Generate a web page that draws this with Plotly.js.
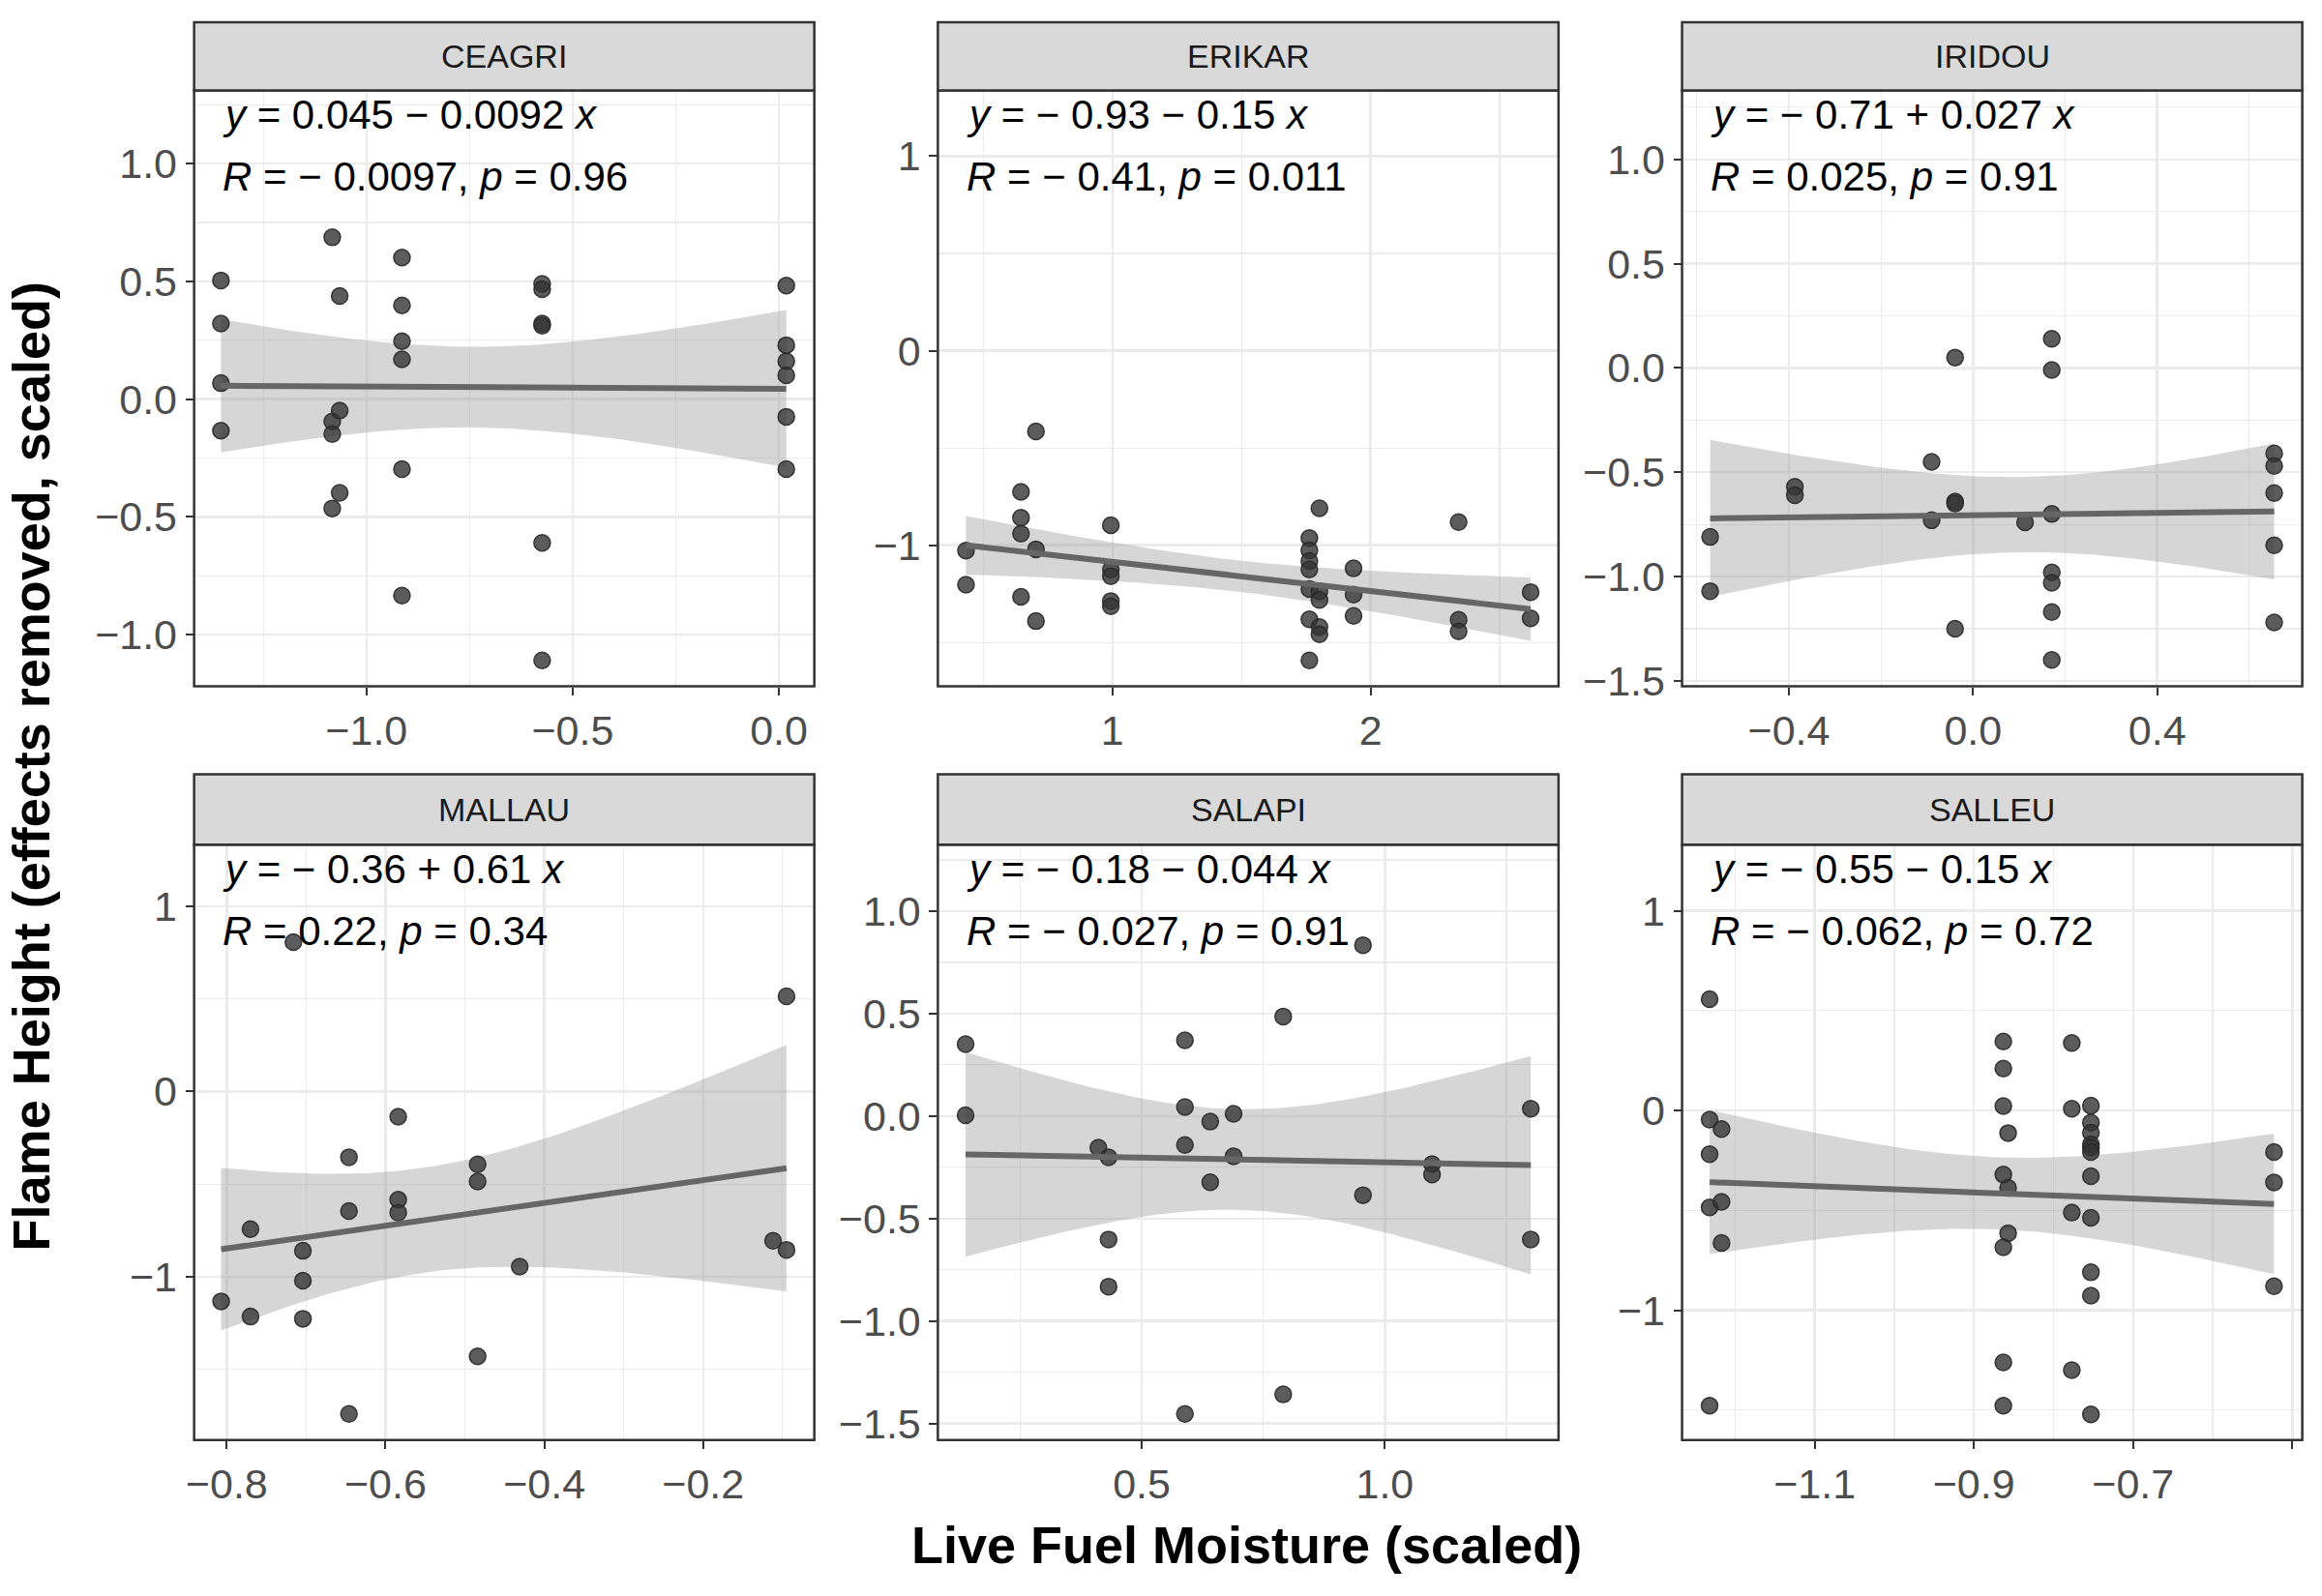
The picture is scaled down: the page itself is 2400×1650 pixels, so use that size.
<!DOCTYPE html>
<html>
<head>
<meta charset="utf-8">
<script src="https://cdn.plot.ly/plotly-3.0.1.min.js"></script>
<style>body{margin:0;background:#fff}#plot{width:2400px;height:1650px}</style>
</head>
<body>
<div id="plot"></div>
<script>
// site names (facet order)
var sites = ['CEAGRI', 'ERIKAR', 'IRIDOU', 'MALLAU', 'SALAPI', 'SALLEU'];

// live fuel moisture (scaled) per site
var ceagriX = [-1.353,-1.353,-1.353,-1.353,-1.083,-1.083,-1.083,-1.083,-1.065,-1.065,-1.065,
  -0.914,-0.914,-0.914,-0.914,-0.914,-0.914,-0.574,-0.574,-0.574,-0.574,-0.574,-0.574,
  0.018,0.018,0.018,0.018,0.018,0.018];
var ceagriY = [0.504,0.321,0.068,-0.134,0.687,-0.095,-0.148,-0.464,0.438,-0.049,-0.398,
  0.601,0.398,0.246,0.169,-0.297,-0.834,0.489,0.467,0.321,0.312,-0.610,-1.109,
  0.482,0.229,0.161,0.101,-0.075,-0.297];
var erikarX = [0.433,0.433,0.646,0.646,0.646,0.646,0.704,0.704,0.704,0.994,0.994,0.994,0.994,0.994,
  1.763,1.763,1.763,1.763,1.763,1.763,1.763,1.802,1.802,1.802,1.802,1.802,1.934,1.934,1.934,
  2.341,2.341,2.341,2.620,2.620];
var erikarY = [-1.028,-1.203,-0.726,-0.859,-0.941,-1.265,-0.415,-1.021,-1.390,-0.897,-1.125,-1.159,-1.287,-1.314,
  -0.963,-1.026,-1.081,-1.125,-1.225,-1.381,-1.592,-0.810,-1.236,-1.281,-1.421,-1.458,-1.119,-1.254,-1.363,
  -0.881,-1.383,-1.443,-1.241,-1.376];
var iridouX = [-0.571,-0.571,-0.387,-0.387,-0.090,-0.090,-0.039,-0.039,-0.039,-0.039,0.113,
  0.171,0.171,0.171,0.171,0.171,0.171,0.171,0.654,0.654,0.654,0.654,0.654];
var iridouY = [-0.81,-1.07,-0.57,-0.61,-0.45,-0.73,0.05,-0.64,-0.65,-1.25,-0.74,
  0.14,-0.01,-0.70,-0.98,-1.03,-1.17,-1.40,-0.41,-0.47,-0.60,-0.85,-1.22];
var mallauX = [-0.807,-0.770,-0.770,-0.716,-0.704,-0.704,-0.704,-0.646,-0.646,-0.646,
  -0.584,-0.584,-0.584,-0.484,-0.484,-0.484,-0.431,-0.112,-0.095,-0.095];
var mallauY = [-1.133,-0.743,-1.215,0.806,-0.860,-1.021,-1.227,-0.355,-0.645,-1.741,
  -0.136,-0.584,-0.654,-0.393,-0.486,-1.430,-0.946,-0.806,0.514,-0.855];
var salapiX = [0.138,0.138,0.411,0.432,0.432,0.432,0.589,0.589,0.589,0.589,0.641,0.641,
  0.689,0.689,0.791,0.791,0.955,0.955,1.097,1.097,1.300,1.300];
var salapiY = [0.351,0.004,-0.154,-0.201,-0.602,-0.832,0.370,0.044,-0.141,-1.453,-0.027,-0.323,
  0.011,-0.196,0.486,-1.358,0.834,-0.386,-0.234,-0.285,0.036,-0.602];
var salleuX = [-1.232,-1.232,-1.217,-1.232,-1.232,-1.217,-1.217,-1.232,
  -0.863,-0.863,-0.863,-0.857,-0.863,-0.857,-0.857,-0.863,-0.863,-0.863,
  -0.777,-0.777,-0.777,-0.777,
  -0.753,-0.753,-0.753,-0.753,-0.753,-0.753,-0.753,-0.753,-0.753,-0.753,-0.753,
  -0.523,-0.523,-0.523];
var salleuY = [0.557,-0.046,-0.093,-0.219,-0.485,-0.457,-0.663,-1.478,
  0.345,0.210,0.022,-0.113,-0.321,-0.387,-0.615,-0.685,-1.261,-1.478,
  0.338,0.009,-0.511,-1.300,
  0.024,-0.061,-0.111,-0.169,-0.186,-0.208,-0.329,-0.537,-0.810,-0.927,-1.521,
  -0.208,-0.360,-0.880];

// equation labels
var eqLines = ['<i>y</i> = 0.045 \u2212 0.0092 <i>x</i>', '<i>y</i> = \u2212 0.93 \u2212 0.15 <i>x</i>',
  '<i>y</i> = \u2212 0.71 + 0.027 <i>x</i>', '<i>y</i> = \u2212 0.36 + 0.61 <i>x</i>',
  '<i>y</i> = \u2212 0.18 \u2212 0.044 <i>x</i>', '<i>y</i> = \u2212 0.55 \u2212 0.15 <i>x</i>'];
var rLines = ['<i>R</i> = \u2212 0.0097, <i>p</i> = 0.96', '<i>R</i> = \u2212 0.41, <i>p</i> = 0.011',
  '<i>R</i> = 0.025, <i>p</i> = 0.91', '<i>R</i> = 0.22, <i>p</i> = 0.34',
  '<i>R</i> = \u2212 0.027, <i>p</i> = 0.91', '<i>R</i> = \u2212 0.062, <i>p</i> = 0.72'];

var xs = [ceagriX, erikarX, iridouX, mallauX, salapiX, salleuX];
var ys = [ceagriY, erikarY, iridouY, mallauY, salapiY, salleuY];

// axis setup per panel
var xRanges = [[-1.418,0.086],[0.324,2.728],[-0.632,0.715],[-0.841,-0.060],[0.081,1.357],[-1.2666,-0.4875]];
var yRanges = [[-1.219,1.311],[-1.725,1.338],[-1.526,1.331],[-1.881,1.332],[-1.580,1.324],[-1.649,1.330]];
var xDt = [0.5,1,0.4,0.2,0.5,0.2];
var xT0 = [0,0,0,0,0,-1.1];
var yDt = [0.5,1,0.5,1,0.5,1];

var colDom = [[0.0836,0.3507],[0.4039,0.6712],[0.7244,0.9915]];
var rowDom = [[0.5700,0.9434],[0.0978,0.4707]];
var stripTop = [0.986, 0.5148];

function linfit(x, y) {
    var n = x.length, mx = 0, my = 0;
    for (var i = 0; i < n; i++) { mx += x[i]; my += y[i]; }
    mx /= n; my /= n;
    var sxx = 0, sxy = 0;
    for (var i = 0; i < n; i++) { sxx += (x[i]-mx)*(x[i]-mx); sxy += (x[i]-mx)*(y[i]-my); }
    var b = sxy / sxx, a = my - b * mx, sse = 0;
    for (var i = 0; i < n; i++) { var r = y[i] - a - b * x[i]; sse += r * r; }
    var s = Math.sqrt(sse / (n - 2));
    var t = 1.96 + 2.5 / (n - 2);
    return {a: a, b: b, s: s, n: n, mx: mx, sxx: sxx, t: t};
}

var data = [], shapes = [], annotations = [];
var layout = {
    width: 2400, height: 1650, paper_bgcolor: '#fff', plot_bgcolor: '#fff',
    showlegend: false, margin: {l: 0, r: 0, t: 0, b: 0},
    font: {family: 'Liberation Sans, Arial, sans-serif', color: '#4d4d4d'}
};

for (var k = 0; k < 6; k++) {
    var c = k % 3, r = Math.floor(k / 3);
    var xa = 'x' + (k + 1), ya = 'y' + (k + 1);
    var x = xs[k], y = ys[k];
    var f = linfit(x, y);
    var lo = Math.min.apply(null, x), hi = Math.max.apply(null, x);
    var gx = [], gy = [], up = [], dn = [];
    for (var i = 0; i <= 80; i++) {
        var v = lo + (hi - lo) * i / 80;
        var se = f.s * Math.sqrt(1 / f.n + (v - f.mx) * (v - f.mx) / f.sxx);
        gx.push(v); gy.push(f.a + f.b * v);
        up.push(f.a + f.b * v + f.t * se); dn.push(f.a + f.b * v - f.t * se);
    }
    data.push({x: gx.concat(gx.slice().reverse()), y: up.concat(dn.slice().reverse()),
        xaxis: xa, yaxis: ya, type: 'scatter', mode: 'lines', fill: 'toself',
        fillcolor: 'rgba(153,153,153,0.4)', line: {width: 0}, hoverinfo: 'skip'});
    data.push({x: x, y: y, xaxis: xa, yaxis: ya, type: 'scatter', mode: 'markers',
        marker: {size: 17, color: 'rgba(51,51,51,0.8)', line: {color: 'rgba(40,40,40,0.9)', width: 1.5}}});
    data.push({x: gx, y: gy, xaxis: xa, yaxis: ya, type: 'scatter', mode: 'lines',
        line: {color: '#666666', width: 6}});

    var grid = {showgrid: true, gridcolor: '#ebebeb', gridwidth: 2.5, zeroline: false,
        ticks: 'outside', ticklen: 8, tickwidth: 2, tickcolor: '#333',
        tickfont: {size: 43, color: '#4d4d4d'}, showline: false};
    layout['xaxis' + (k + 1)] = Object.assign({}, grid, {
        domain: colDom[c], anchor: ya, range: xRanges[k], dtick: xDt[k], tick0: xT0[k],
        tickformat: xDt[k] >= 1 ? 'd' : '.1f',
        minor: {dtick: xDt[k] / 2, tick0: xT0[k], showgrid: true, gridcolor: '#ebebeb', gridwidth: 1.2, ticks: ''}});
    layout['yaxis' + (k + 1)] = Object.assign({}, grid, {
        domain: rowDom[r], anchor: xa, range: yRanges[k], dtick: yDt[k], tick0: 0,
        tickformat: yDt[k] >= 1 ? 'd' : '.1f',
        minor: {dtick: yDt[k] / 2, showgrid: true, gridcolor: '#ebebeb', gridwidth: 1.2, ticks: ''}});

    // panel border
    shapes.push({type: 'rect', xref: 'paper', yref: 'paper', x0: colDom[c][0], x1: colDom[c][1],
        y0: rowDom[r][0], y1: rowDom[r][1], line: {color: '#333', width: 2.5}, layer: 'above'});
    // strip
    shapes.push({type: 'rect', xref: 'paper', yref: 'paper', x0: colDom[c][0], x1: colDom[c][1],
        y0: rowDom[r][1], y1: stripTop[r], fillcolor: '#d9d9d9', line: {color: '#333', width: 2.5}});
    annotations.push({xref: 'paper', yref: 'paper', x: (colDom[c][0] + colDom[c][1]) / 2,
        y: (rowDom[r][1] + stripTop[r]) / 2, xanchor: 'center', yanchor: 'middle',
        text: sites[k], showarrow: false, font: {size: 34, color: '#1a1a1a'}});
    annotations.push({xref: 'paper', yref: 'paper', x: colDom[c][0] + 0.0115, y: rowDom[r][1] - 0.015,
        xanchor: 'left', yanchor: 'middle', text: eqLines[k], showarrow: false,
        font: {size: 42, color: '#000'}});
    annotations.push({xref: 'paper', yref: 'paper', x: colDom[c][0] + 0.0115, y: rowDom[r][1] - 0.054,
        xanchor: 'left', yanchor: 'middle', text: rLines[k], showarrow: false,
        font: {size: 42, color: '#000'}});
}

annotations.push({xref: 'paper', yref: 'paper', x: 0.537, y: 0.032, xanchor: 'center', yanchor: 'middle',
    text: '<b>Live Fuel Moisture (scaled)</b>', showarrow: false, font: {size: 54, color: '#000'}});
annotations.push({xref: 'paper', yref: 'paper', x: 0.0135, y: 0.52, xanchor: 'center', yanchor: 'middle',
    textangle: -90, text: '<b>Flame Height (effects removed, scaled)</b>', showarrow: false,
    font: {size: 54, color: '#000'}});

layout.shapes = shapes;
layout.annotations = annotations;
Plotly.newPlot('plot', data, layout, {staticPlot: true});
</script>
</body>
</html>
